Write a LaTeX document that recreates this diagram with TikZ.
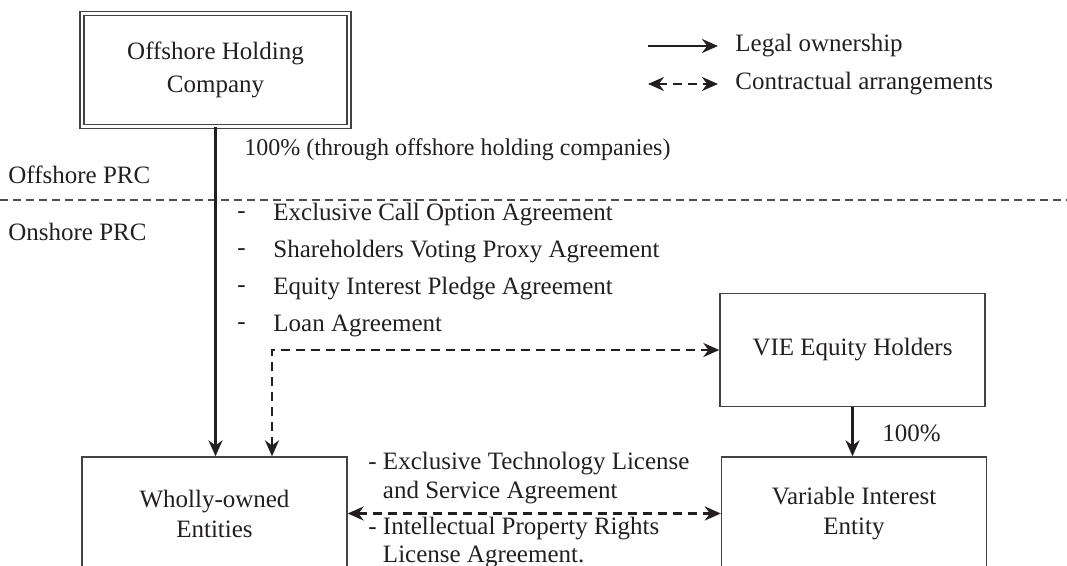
\documentclass[tikz,border=0pt]{standalone}
\usepackage{fontspec}
\setmainfont{Liberation Serif}
\usetikzlibrary{arrows.meta,positioning}

\definecolor{ink}{RGB}{35,31,32}
\tikzset{
    entity/.style={draw=ink!85, line width=0.7pt, minimum width=132.5pt, minimum height=56.5pt,
        align=center, text=ink, font=\fontsize{12.5}{15}\selectfont},
    own/.style={-{Stealth[length=8pt,width=7pt]}, line width=1.2pt, ink},
    contract/.style={{Stealth[length=8pt,width=7pt]}-{Stealth[length=8pt,width=7pt]},
        line width=1.3pt, ink, dash pattern=on 4.5pt off 3pt},
    lbl/.style={text=ink, font=\fontsize{12.5}{15}\selectfont, inner sep=0pt}
}

\begin{document}
\begin{tikzpicture}[x=0.5pt,y=-0.5pt]
    \useasboundingbox (0,0) rectangle (1067,566);

    % Draw boxes
    \node[entity, double, double distance=1.25pt, line width=0.85pt, minimum width=133.5pt,
        font=\fontsize{12.5}{16.5}\selectfont] (ohc) at (215.5,70) {Offshore Holding\\Company};
    \node[entity] (woe) at (214.5,513.5) {Wholly-owned\\Entities};
    \node[entity] (veh) at (852.5,350) {VIE Equity Holders};
    \node[entity] (vie) at (854,513.5) {Variable Interest\\Entity};

    % Offshore / onshore border
    \draw[line width=0.7pt, ink!80, dash pattern=on 4pt off 2.5pt] (0,200) -- (1067,200);
    \node[lbl, anchor=west] (offprc) at (8,175) {Offshore PRC};
    \node[lbl, anchor=west] (onprc) at (8,232) {Onshore PRC};

    % Draw ownership and contract lines
    \draw[own] (ohc.south) -- (ohc.south |- woe.north);
    \draw[own] (veh.south) -- (veh.south |- vie.north);
    \draw[contract] ([xshift=28.75pt]woe.north) |- (veh.west);
    \draw[contract] (woe.east) -- (vie.west);

    % Label lines
    \node[lbl, anchor=west, font=\fontsize{12}{15}\selectfont] (hold) at (244,150)
        {100\% (through offshore holding companies)};
    \node[lbl, anchor=west] (full) at (882,433) {100\%};
    \foreach \t [count=\i] in {Exclusive Call Option Agreement, Shareholders Voting Proxy Agreement,
        Equity Interest Pledge Agreement, Loan Agreement} {
        \node[lbl, anchor=west] (dash\i) at (237,178+37*\i) {-};
        \node[lbl, anchor=west] (agr\i) at (273,178+37*\i) {\t};
    }
    \node[lbl, anchor=west, align=left, font=\fontsize{12.5}{14.5}\selectfont] (tech) at (368,478)
        {- Exclusive Technology License\\\hphantom{- }and Service Agreement};
    \node[lbl, anchor=west, align=left, font=\fontsize{12.5}{14}\selectfont] (ipr) at (368,543)
        {- Intellectual Property Rights\\\hphantom{- }License Agreement.};

    % Legend
    \node[lbl, anchor=west] (legown) at (735,46) {Legal ownership};
    \node[lbl, anchor=west] (legcon) at (735,84) {Contractual arrangements};
    \draw[own] ([xshift=-43.5pt]legown.west) -- ([xshift=-8.5pt]legown.west);
    \draw[contract] ([xshift=-43.5pt]legcon.west) -- ([xshift=-8.5pt]legcon.west);
\end{tikzpicture}
\end{document}
